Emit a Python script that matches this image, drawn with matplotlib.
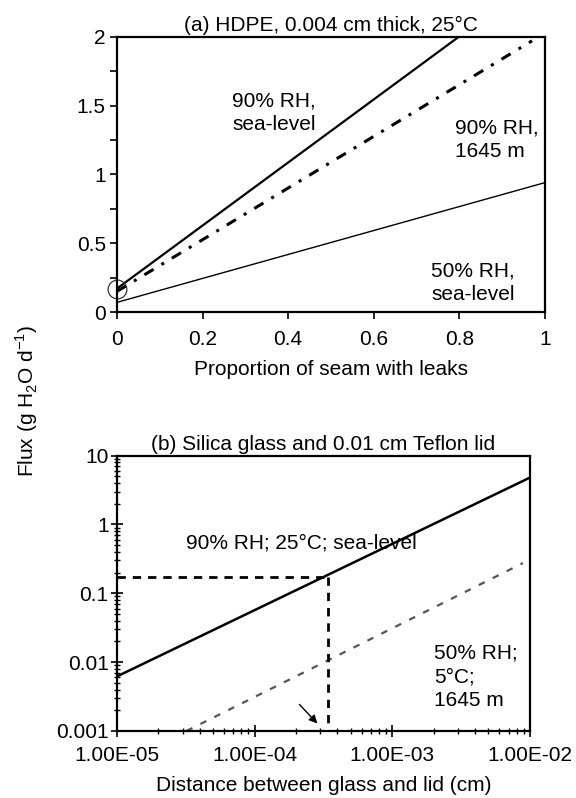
#!/usr/bin/env python3
"""Two-panel flux figure: HDPE seams (a) and silica glass with Teflon lid (b)."""

import matplotlib
matplotlib.use('Agg')
import matplotlib.pyplot as plt
from matplotlib.ticker import MultipleLocator, FixedLocator, NullFormatter, LogLocator

plt.rcParams['font.family'] = ['Liberation Sans', 'DejaVu Sans']
plt.rcParams['mathtext.fontset'] = 'custom'
plt.rcParams['mathtext.rm'] = 'Liberation Sans'

# ---------- data, panel (a) ----------
seam = [0.0, 1.0]
rh90_sea = [0.17, 2.46]
seam_1645 = [0.0, 0.97]
rh90_1645 = [0.15, 1.97]
rh50_sea = [0.07, 0.94]
circle_pt = (0.0, 0.17)
a_xticks = [0, 0.2, 0.4, 0.6, 0.8, 1]
a_xlabels = ['0', '0.2', '0.4', '0.6', '0.8', '1']
a_yticks = [0, 0.5, 1, 1.5, 2]
a_ylabels = ['0', '0.5', '1', '1.5', '2']

# ---------- data, panel (b) ----------
gap = [1e-5, 1e-2]
rh90_25c = [0.0062, 4.8]
gap_cold = [3.2e-5, 8.9e-3]
rh50_5c = [0.001, 0.275]
ref_gap = 3.4e-4
ref_flux = 0.17
b_xticks = [1e-5, 1e-4, 1e-3, 1e-2]
b_xlabels = ['1.00E-05', '1.00E-04', '1.00E-03', '1.00E-02']
b_yticks = [1e-3, 1e-2, 1e-1, 1, 10]
b_ylabels = ['0.001', '0.01', '0.1', '1', '10']

fig = plt.figure(figsize=(5.76, 7.98), dpi=100)
ax1 = fig.add_axes([0.203, 0.609, 0.743, 0.345])
ax2 = fig.add_axes([0.203, 0.084, 0.717, 0.345])

fs = 15

# ---- panel (a) ----
ax1.plot(seam, rh90_sea, color='black', lw=1.6)
ax1.plot(seam_1645, rh90_1645, color='black', lw=2.2, linestyle=(0, (3.5, 3, 1, 3)))
ax1.plot(seam, rh50_sea, color='black', lw=1.0)
ax1.plot(*circle_pt, marker='o', ms=13.5, mfc='none', mec='#333333', mew=0.9, clip_on=False)

ax1.set_xlim(0, 1)
ax1.set_ylim(0, 2)
ax1.set_xticks(a_xticks)
ax1.set_xticklabels(a_xlabels)
ax1.set_yticks(a_yticks)
ax1.set_yticklabels(a_ylabels)
ax1.yaxis.set_minor_locator(MultipleLocator(0.25))
ax1.tick_params(which='both', direction='out', length=5, width=1.2, labelsize=fs)
ax1.tick_params(axis='x', pad=8)
ax1.tick_params(axis='y', pad=3)
ax1.set_xlabel('Proportion of seam with leaks', fontsize=fs, labelpad=8)
ax1.set_title('(a) HDPE, 0.004 cm thick, 25\u00b0C', fontsize=fs, pad=4)

ax1.text(0.27, 1.45, '90% RH,\nsea-level', fontsize=fs, ha='left', va='center', linespacing=1.3)
ax1.text(0.79, 1.25, '90% RH,\n1645 m', fontsize=fs, ha='left', va='center', linespacing=1.3)
ax1.text(0.735, 0.21, '50% RH,\nsea-level', fontsize=fs, ha='left', va='center', linespacing=1.3)

# ---- panel (b) ----
ax2.set_xscale('log')
ax2.set_yscale('log')
ax2.plot(gap, rh90_25c, color='black', lw=1.8)
ax2.plot(gap_cold, rh50_5c, color='#555555', lw=1.6, linestyle=(0, (3, 4)))
ax2.plot([gap[0], ref_gap], [ref_flux, ref_flux], color='black', lw=2, linestyle=(0, (3, 2.5)))
ax2.plot([ref_gap, ref_gap], [ref_flux, 1e-3], color='black', lw=2, linestyle=(0, (3, 2.5)))
ax2.annotate('', xy=(2.95e-4, 1.2e-3), xytext=(2.05e-4, 2.6e-3),
             arrowprops=dict(arrowstyle='-|>', color='black', lw=1.0, mutation_scale=12))

ax2.set_xlim(1e-5, 1e-2)
ax2.set_ylim(1e-3, 10)
ax2.xaxis.set_major_locator(FixedLocator(b_xticks))
ax2.set_xticklabels(b_xlabels)
ax2.yaxis.set_major_locator(FixedLocator(b_yticks))
ax2.set_yticklabels(b_ylabels)
ax2.xaxis.set_minor_locator(LogLocator(base=10, subs=range(2, 10)))
ax2.yaxis.set_minor_locator(LogLocator(base=10, subs=range(2, 10)))
ax2.xaxis.set_minor_formatter(NullFormatter())
ax2.yaxis.set_minor_formatter(NullFormatter())
ax2.tick_params(which='major', direction='inout', length=8, width=1.2, labelsize=fs)
ax2.tick_params(which='minor', direction='inout', length=5, width=1.0)
ax2.tick_params(axis='x', which='major', pad=7)
ax2.tick_params(axis='y', which='major', pad=2)
ax2.set_xlabel('Distance between glass and lid (cm)', fontsize=fs, labelpad=8)
ax2.set_title('(b) Silica glass and 0.01 cm Teflon lid', fontsize=fs, pad=4)

ax2.text(3.2e-5, 0.54, '90% RH; 25\u00b0C; sea-level', fontsize=fs, ha='left', va='center')
ax2.text(2.0e-3, 0.0061, '50% RH;\n5\u00b0C;\n1645 m', fontsize=fs, ha='left', va='center',
         linespacing=1.3)

for ax in (ax1, ax2):
    for s in ax.spines.values():
        s.set_linewidth(1.6)

fig.text(0.047, 0.4975, 'Flux (g H$_2$O d$^{-1}$)', rotation=90, fontsize=fs,
         ha='center', va='center')

fig.savefig('out.png', dpi=100, facecolor='white')
